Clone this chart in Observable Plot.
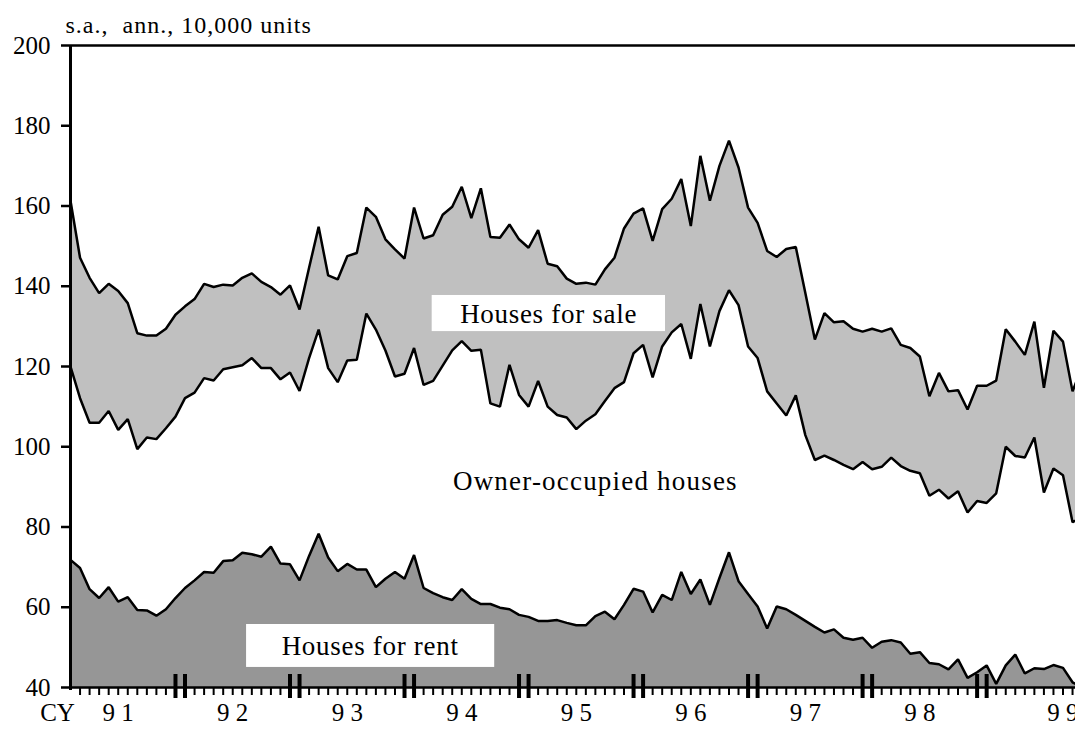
<!DOCTYPE html>
<html>
<head>
<meta charset="utf-8">
<script src="https://cdn.jsdelivr.net/npm/d3@7"></script>
<script src="https://cdn.jsdelivr.net/npm/@observablehq/plot@0.6"></script>
<style>
  html, body { margin: 0; padding: 0; background: #ffffff; }
  #chart { width: 1075px; height: 731px; overflow: hidden; }
</style>
</head>
<body>
<div id="chart"></div>
<script>
// Monthly index: 0 = Jan 1991 ... 106 = Nov 1999 (last point falls just past the right edge)
const months = d3.range(107);

// Upper line: total (houses for sale on top of owner-occupied and rent), s.a. ann., 10,000 units
const totalLine = [
  161.3,147.1,142.1,138.3,140.6,138.8,135.8,128.3,127.7,127.7,
  129.4,132.9,135.0,136.8,140.6,139.8,140.4,140.2,142.1,143.2,
  141.1,139.8,137.9,140.2,134.2,144.6,154.8,142.7,141.7,147.5,
  148.3,159.6,157.3,151.7,149.2,146.9,159.6,151.9,152.7,157.8,
  159.8,164.8,157.0,164.4,152.3,152.1,155.4,151.7,149.6,154.0,
  145.6,145.0,141.9,140.6,140.9,140.4,144.2,147.1,154.4,158.1,
  159.4,151.3,159.2,161.8,166.7,155.0,172.5,161.3,170.0,176.3,
  169.6,159.6,155.8,148.8,147.3,149.3,149.8,138.3,126.7,133.3,
  131.0,131.3,129.4,128.7,129.4,128.7,129.5,125.4,124.6,122.5,
  112.6,118.4,113.8,114.1,109.3,115.2,115.2,116.5,129.3,126.2,
  122.9,131.2,114.7,128.9,126.2,113.8,120.0
];

// Middle line: owner-occupied + rent
const ownerLine = [
  120.0,112.1,106.0,106.0,108.9,104.2,106.9,99.4,102.3,101.9,
  104.6,107.5,112.1,113.5,117.1,116.5,119.3,119.8,120.3,122.1,
  119.6,119.6,116.8,118.5,113.9,122.1,129.2,119.6,116.1,121.5,
  121.7,133.2,129.2,124.0,117.5,118.2,124.6,115.4,116.4,120.2,
  124.0,126.3,123.9,124.2,110.8,110.0,120.4,112.9,110.0,116.4,
  110.0,107.9,107.3,104.4,106.5,108.1,111.4,114.6,116.1,123.3,
  125.4,117.3,125.0,128.5,130.6,121.9,135.6,125.0,133.8,139.0,
  135.3,125.0,122.1,113.8,110.8,107.8,112.8,102.9,96.7,97.8,
  96.7,95.5,94.4,96.2,94.4,95.0,97.3,95.2,94.0,93.4,
  87.8,89.3,87.1,88.9,83.6,86.5,86.0,88.4,100.0,97.7,
  97.3,102.3,88.6,94.6,92.9,81.2,82.5
];

// Bottom line: houses for rent
const rentLine = [
  71.8,69.8,64.5,62.3,65.0,61.4,62.5,59.3,59.2,57.9,
  59.5,62.3,64.8,66.7,68.8,68.6,71.5,71.7,73.6,73.2,
  72.6,75.1,70.9,70.7,66.7,72.8,78.3,72.4,69.0,70.8,
  69.4,69.4,65.0,67.1,68.8,67.1,73.0,64.8,63.5,62.5,
  61.8,64.5,62.1,60.8,60.8,59.9,59.5,58.1,57.6,56.6,
  56.6,56.8,56.1,55.5,55.5,57.8,58.9,57.0,60.6,64.6,
  63.9,58.7,63.1,61.8,68.8,63.3,66.9,60.6,67.3,73.7,
  66.5,63.3,60.2,54.7,60.2,59.5,58.1,56.6,55.1,53.7,
  54.5,52.4,51.9,52.4,49.9,51.4,51.8,51.2,48.4,48.8,
  46.1,45.8,44.5,47.0,42.4,43.8,45.5,40.9,45.5,48.2,
  43.5,44.8,44.6,45.6,44.9,41.3,40.0
];

const yTicks = [40, 60, 80, 100, 120, 140, 160, 180, 200];
const yearLabels = ["9 1", "9 2", "9 3", "9 4", "9 5", "9 6", "9 7", "9 8", "9 9"];
const yearLabelMonth = [5, 17, 29, 41, 53, 65, 77, 89, 104];
const monthTicks = d3.range(1, 106);
const yearBoundaryTicks = [11, 12, 23, 24, 35, 36, 47, 48, 59, 60, 71, 72, 83, 84, 95, 96];

// Annotation boxes and labels (in data units)
const boxes = [
  {x1: 37.9, x2: 62.35, y1: 128.7, y2: 137.7},
  {x1: 18.45, x2: 44.45, y1: 45.0, y2: 55.7}
];
const labels = [
  {text: "Houses for sale", x: 50.1, y: 132.9, ls: "0.7px"},
  {text: "Owner-occupied houses", x: 55.0, y: 91.3, ls: "1.2px"},
  {text: "Houses for rent", x: 31.4, y: 50.3, ls: "0.7px"}
];

const data = months.map((m, i) => ({m, total: totalLine[i], owner: ownerLine[i], rent: rentLine[i]}));

const serif = "'Liberation Serif','Times New Roman',Times,serif";

const chart = Plot.plot({
  width: 1075,
  height: 731,
  marginLeft: 70,
  marginRight: 0,
  marginTop: 45,
  marginBottom: 44,
  x: {domain: [0, 105.31], axis: null},
  y: {domain: [40, 200], axis: null},
  style: {fontFamily: serif, background: "#ffffff", color: "#000000", overflow: "hidden"},
  marks: [
    Plot.areaY(data, {x: "m", y1: "owner", y2: "total", fill: "#c0c0c0", clip: true}),
    Plot.areaY(data, {x: "m", y1: "rent", y2: "owner", fill: "#ffffff", clip: true}),
    Plot.areaY(data, {x: "m", y1: 40, y2: "rent", fill: "#969696", clip: true}),
    Plot.rect(boxes, {x1: "x1", x2: "x2", y1: "y1", y2: "y2", fill: "#ffffff"}),
    Plot.text(labels, {x: "x", y: "y", text: "text", fontSize: 27, fill: "#000000"}),
    Plot.lineY(data, {x: "m", y: "total", stroke: "#000000", strokeWidth: 2.5, strokeLinejoin: "miter", clip: true}),
    Plot.lineY(data, {x: "m", y: "owner", stroke: "#000000", strokeWidth: 2.5, strokeLinejoin: "miter", clip: true}),
    Plot.lineY(data, {x: "m", y: "rent", stroke: "#000000", strokeWidth: 2.5, strokeLinejoin: "miter", clip: true}),
    // frame lines
    Plot.ruleY([200], {stroke: "#000000", strokeWidth: 2.5}),
    Plot.ruleY([40], {stroke: "#000000", strokeWidth: 2.5}),
    Plot.ruleX([0], {stroke: "#000000", strokeWidth: 3, insetBottom: -3}),
    // y axis
    Plot.axisY({ticks: yTicks, tickSize: 9, tickPadding: 11, fontSize: 25, label: null, strokeWidth: 2.5, tickFormat: d => String(d)}),
    // month ticks and year-boundary double bars
    Plot.tickX(monthTicks, {x: d => d, insetTop: 642, insetBottom: -8, stroke: "#000000", strokeWidth: 2}),
    Plot.tickX(yearBoundaryTicks, {x: d => d, insetTop: 629, insetBottom: -11, stroke: "#000000", strokeWidth: 4}),
    // year labels
    Plot.text(yearLabels, {x: (d, i) => yearLabelMonth[i], text: d => d, frameAnchor: "bottom", dy: 33, fontSize: 25, fill: "#000000"}),
    Plot.text(["CY"], {text: d => d, frameAnchor: "bottom-left", dx: -13, dy: 33, fontSize: 25, textAnchor: "middle", fill: "#000000"}),
    Plot.text(["s.a.,  ann., 10,000 units"], {text: d => d, frameAnchor: "top-left", dx: -5, dy: -13, lineAnchor: "bottom", textAnchor: "start", fontSize: 24, fill: "#000000"})
  ]
});

// letter spacing for the annotation labels and unit note (stretched serif look)
chart.querySelectorAll("text").forEach(t => {
  const s = t.textContent;
  if (s === "Houses for sale" || s === "Houses for rent") t.setAttribute("letter-spacing", "0.7px");
  else if (s === "Owner-occupied houses") t.setAttribute("letter-spacing", "1.2px");
  else if (s.startsWith("s.a.")) t.setAttribute("letter-spacing", "1px");
});

document.getElementById("chart").appendChild(chart);
</script>
</body>
</html>
